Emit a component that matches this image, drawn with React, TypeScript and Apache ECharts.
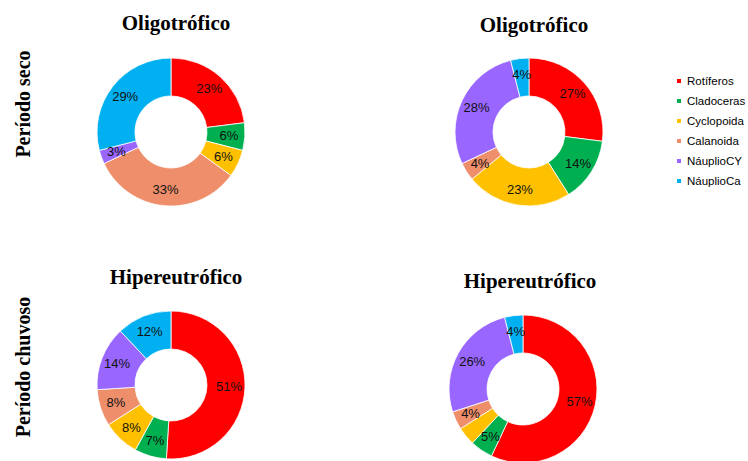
import React, { useEffect, useRef } from "react";
import * as echarts from "echarts";

const groups = ["Rotíferos", "Cladoceras", "Cyclopoida", "Calanoida", "NáuplioCY", "NáuplioCa"];
const colors = ["#FF0000", "#00B050", "#FFC000", "#EE8E6B", "#9966FF", "#00B0F0"];

const secoOligoA = [23, 6, 6, 33, 3, 29];
const secoOligoB = [27, 14, 23, 4, 28, 4];
const chuvosoHiperA = [51, 7, 8, 8, 14, 12];
const chuvosoHiperB = [57, 5, 4, 4, 26, 4];

const panelTitles = ["Oligotrófico", "Oligotrófico", "Hipereutrófico", "Hipereutrófico"];
const rowTitles = ["Período seco", "Período chuvoso"];

const serifFont = "'Liberation Serif', 'Times New Roman', serif";
const sansFont = "'Liberation Sans', Arial, sans-serif";

export default function App() {
  const ref = useRef<HTMLDivElement>(null);

  useEffect(() => {
    if (!ref.current) return;
    const chart = echarts.init(ref.current, null, { renderer: "svg" });

    const panels = [
      { values: secoOligoA, center: [171, 132], titlePos: [171, 7] },
      { values: secoOligoB, center: [529, 132], titlePos: [529, 9] },
      { values: chuvosoHiperA, center: [171, 385], titlePos: [171, 261] },
      { values: chuvosoHiperB, center: [523, 389], titlePos: [525, 265] },
    ];

    const series = panels.map((p, i) => ({
      type: "pie",
      name: panelTitles[i],
      center: p.center,
      radius: [36, 74],
      startAngle: 90,
      clockwise: true,
      avoidLabelOverlap: false,
      itemStyle: { borderColor: "#ffffff", borderWidth: 0.8 },
      label: {
        show: true,
        position: "inside",
        formatter: "{c}%",
        color: "#111",
        fontSize: 13,
        fontFamily: sansFont,
      },
      labelLine: { show: false },
      emphasis: { disabled: true },
      data: groups.map((g, k) => ({ name: g, value: p.values[k] })),
    }));

    const titles = panels.map((p, i) => ({
      text: panelTitles[i],
      left: p.titlePos[0],
      top: p.titlePos[1],
      textAlign: "center",
      textStyle: {
        fontFamily: serifFont,
        fontWeight: "bold",
        fontSize: 21,
        color: "#000",
      },
    }));

    const rowLabel = (text: string, y: number) => ({
      type: "text",
      x: 23,
      y,
      rotation: Math.PI / 2,
      style: {
        text,
        font: `bold 20px ${serifFont}`,
        fill: "#000",
        textAlign: "center",
        textVerticalAlign: "middle",
      },
    });

    chart.setOption({
      animation: false,
      color: colors,
      title: titles,
      legend: {
        orient: "vertical",
        left: 675,
        top: 75,
        padding: 0,
        icon: "rect",
        itemWidth: 6,
        itemHeight: 6,
        itemGap: 8,
        textStyle: { fontFamily: sansFont, fontSize: 11.5, color: "#000" },
        data: groups,
        selectedMode: false,
      },
      graphic: [rowLabel(rowTitles[0], 104), rowLabel(rowTitles[1], 367)],
      series,
    });

    return () => chart.dispose();
  }, []);

  return <div ref={ref} style={{ width: 748, height: 461, position: "absolute", left: 0, top: 0 }} />;
}
